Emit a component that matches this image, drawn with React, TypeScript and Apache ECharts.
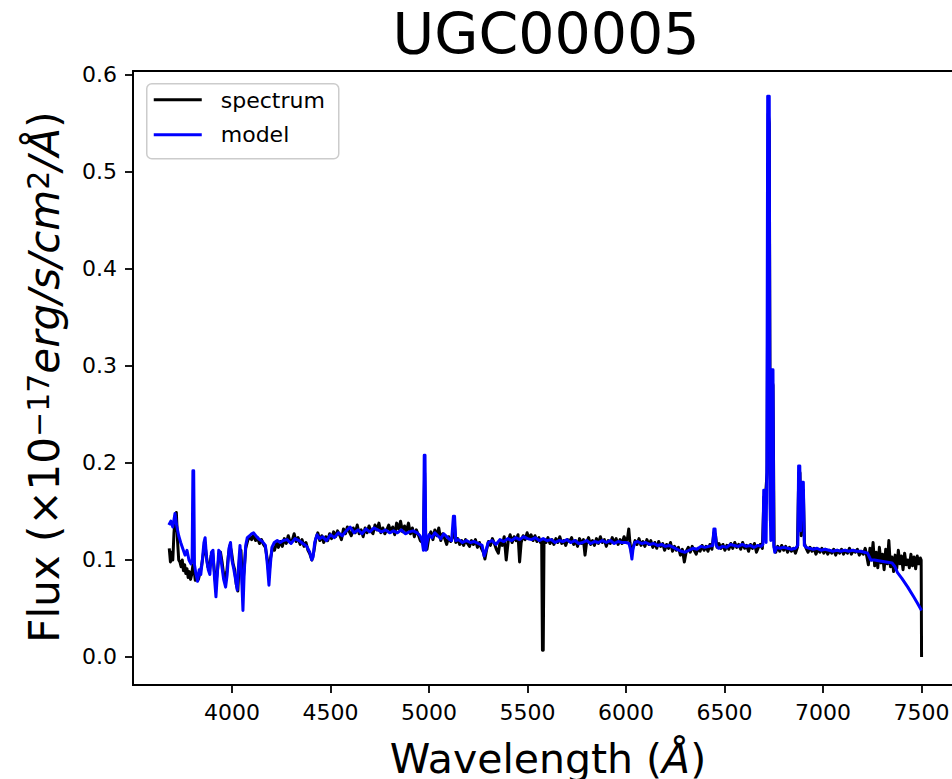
import React, { useEffect, useRef } from 'react';
import * as echarts from 'echarts';

const FONT = 'DejaVu Sans';

const titleText = 'UGC00005';
const xTicks = [4000, 4500, 5000, 5500, 6000, 6500, 7000, 7500];
const yTicks = [0, 0.1, 0.2, 0.3, 0.4, 0.5, 0.6];
const legendNames = ['spectrum', 'model'];

// observed spectrum [wavelength (Å), flux]
const spectrumBlue: [number, number][] = [
  [3682, 0.112], [3688, 0.098], [3694, 0.108], [3700, 0.1], [3706, 0.128], [3712, 0.145], [3718, 0.149],
  [3724, 0.12], [3730, 0.1], [3736, 0.098], [3742, 0.093], [3748, 0.1], [3754, 0.089], [3760, 0.095],
  [3766, 0.086], [3772, 0.091], [3778, 0.082], [3784, 0.088], [3790, 0.08], [3796, 0.085], [3802, 0.095],
  [3808, 0.09], [3814, 0.079], [3822, 0.083], [3830, 0.08], [3838, 0.087], [3846, 0.094], [3854, 0.105],
  [3862, 0.118], [3870, 0.105], [3878, 0.093], [3886, 0.09], [3894, 0.104], [3902, 0.107], [3910, 0.09],
  [3918, 0.075], [3926, 0.088], [3934, 0.104], [3942, 0.108], [3950, 0.098], [3958, 0.085], [3966, 0.08],
  [3974, 0.088], [3982, 0.105], [3990, 0.115], [3998, 0.108], [4006, 0.096], [4014, 0.09], [4022, 0.075],
  [4030, 0.068], [4038, 0.1], [4046, 0.11], [4054, 0.072], [4062, 0.09], [4070, 0.112], [4080, 0.12],
  [4090, 0.124], [4100, 0.121], [4110, 0.126], [4120, 0.12], [4130, 0.123], [4140, 0.117], [4150, 0.121],
  [4160, 0.116], [4170, 0.113], [4180, 0.1], [4188, 0.085], [4196, 0.102], [4206, 0.112], [4216, 0.11],
  [4226, 0.118], [4236, 0.113], [4246, 0.119], [4256, 0.114], [4266, 0.122], [4276, 0.117], [4286, 0.125],
  [4296, 0.118], [4306, 0.12], [4316, 0.127], [4326, 0.119], [4336, 0.123], [4346, 0.116], [4356, 0.121],
  [4366, 0.114], [4376, 0.118], [4386, 0.11], [4396, 0.106], [4406, 0.1], [4416, 0.109], [4426, 0.122],
  [4436, 0.128], [4446, 0.12], [4456, 0.125], [4466, 0.118], [4476, 0.124], [4486, 0.12], [4496, 0.127],
];
const spectrumMid: [number, number][] = [
  [4506, 0.122], [4516, 0.129], [4526, 0.124], [4536, 0.13], [4546, 0.126], [4556, 0.121], [4566, 0.132],
  [4576, 0.127], [4586, 0.134], [4596, 0.129], [4606, 0.125], [4616, 0.133], [4626, 0.128], [4636, 0.136],
  [4646, 0.127], [4656, 0.131], [4666, 0.124], [4676, 0.133], [4686, 0.128], [4696, 0.135], [4706, 0.13],
  [4716, 0.127], [4726, 0.136], [4736, 0.131], [4746, 0.138], [4756, 0.128], [4766, 0.133], [4776, 0.127],
  [4786, 0.131], [4796, 0.136], [4806, 0.129], [4816, 0.134], [4826, 0.126], [4836, 0.138], [4846, 0.132],
  [4856, 0.14], [4866, 0.129], [4876, 0.135], [4886, 0.13], [4896, 0.138], [4906, 0.127], [4916, 0.133],
  [4926, 0.124], [4936, 0.131], [4946, 0.126], [4956, 0.12], [4966, 0.118], [4972, 0.12], [4978, 0.19],
  [4984, 0.115], [4990, 0.111], [5000, 0.124], [5010, 0.129], [5020, 0.121], [5030, 0.131], [5040, 0.125],
  [5050, 0.133], [5060, 0.12], [5070, 0.127], [5080, 0.122], [5090, 0.116], [5100, 0.124], [5110, 0.119],
  [5120, 0.123], [5128, 0.14], [5136, 0.118], [5146, 0.122], [5156, 0.116], [5166, 0.12], [5176, 0.115],
  [5186, 0.121], [5196, 0.117], [5206, 0.114], [5216, 0.12], [5226, 0.116], [5236, 0.121], [5246, 0.113],
  [5256, 0.118], [5266, 0.112], [5276, 0.108], [5284, 0.101], [5292, 0.11], [5302, 0.119], [5312, 0.115],
  [5322, 0.122], [5332, 0.117], [5342, 0.111], [5352, 0.107], [5362, 0.12], [5372, 0.115], [5382, 0.124],
  [5392, 0.1], [5402, 0.119], [5412, 0.126], [5422, 0.118], [5432, 0.124], [5442, 0.12], [5452, 0.126],
  [5460, 0.098], [5468, 0.118], [5478, 0.125], [5488, 0.121], [5498, 0.128], [5508, 0.122], [5518, 0.126],
  [5528, 0.12], [5538, 0.125], [5548, 0.119], [5558, 0.123], [5566, 0.118], [5572, 0.12], [5576, 0.007],
  [5580, 0.007], [5584, 0.121], [5594, 0.118], [5604, 0.123], [5614, 0.117], [5624, 0.121], [5634, 0.116],
  [5644, 0.122], [5654, 0.118], [5664, 0.124], [5674, 0.117], [5684, 0.12], [5694, 0.115], [5704, 0.121],
  [5714, 0.119], [5724, 0.123], [5734, 0.116], [5744, 0.12], [5754, 0.114], [5764, 0.122], [5774, 0.117],
  [5784, 0.121], [5792, 0.105], [5800, 0.118], [5810, 0.123], [5820, 0.116], [5830, 0.12], [5840, 0.115],
  [5850, 0.122], [5860, 0.117], [5870, 0.124], [5880, 0.118], [5890, 0.121], [5900, 0.114], [5910, 0.12],
  [5920, 0.117], [5930, 0.123], [5940, 0.118], [5950, 0.122], [5960, 0.116], [5970, 0.121], [5980, 0.117],
  [5990, 0.124],
];
const spectrumRed: [number, number][] = [
  [6000, 0.119], [6008, 0.123], [6014, 0.132], [6020, 0.118], [6028, 0.106], [6036, 0.113], [6046, 0.12],
  [6056, 0.116], [6066, 0.122], [6076, 0.115], [6086, 0.119], [6096, 0.114], [6106, 0.121], [6116, 0.116],
  [6126, 0.12], [6136, 0.113], [6146, 0.118], [6156, 0.112], [6166, 0.119], [6176, 0.114], [6186, 0.117],
  [6196, 0.11], [6206, 0.116], [6216, 0.112], [6226, 0.118], [6236, 0.109], [6246, 0.114], [6256, 0.11],
  [6266, 0.113], [6276, 0.105], [6286, 0.111], [6296, 0.098], [6306, 0.109], [6316, 0.113], [6326, 0.108],
  [6336, 0.114], [6346, 0.11], [6356, 0.106], [6366, 0.112], [6376, 0.109], [6386, 0.115], [6396, 0.11],
  [6406, 0.114], [6416, 0.109], [6426, 0.116], [6436, 0.111], [6446, 0.128], [6454, 0.126], [6462, 0.113],
  [6472, 0.117], [6482, 0.112], [6492, 0.116], [6502, 0.11], [6512, 0.115], [6522, 0.111], [6532, 0.117],
  [6542, 0.112], [6552, 0.118], [6562, 0.113], [6572, 0.116], [6582, 0.111], [6592, 0.118], [6602, 0.112],
  [6612, 0.115], [6622, 0.109], [6632, 0.116], [6642, 0.112], [6652, 0.117], [6662, 0.108], [6672, 0.113],
  [6682, 0.116], [6692, 0.112], [6700, 0.165], [6706, 0.16], [6716, 0.19], [6722, 0.56], [6727, 0.55],
  [6733, 0.14], [6741, 0.285], [6746, 0.28], [6752, 0.113], [6760, 0.108], [6770, 0.114], [6780, 0.109],
  [6790, 0.115], [6800, 0.11], [6810, 0.114], [6820, 0.108], [6830, 0.113], [6840, 0.109], [6850, 0.112],
  [6860, 0.107], [6870, 0.113], [6877, 0.19], [6883, 0.19], [6889, 0.125], [6895, 0.172], [6900, 0.172],
  [6906, 0.117], [6914, 0.112], [6924, 0.108], [6934, 0.113], [6944, 0.109], [6954, 0.112], [6964, 0.106],
  [6974, 0.111], [6984, 0.108], [6994, 0.112], [7004, 0.107], [7014, 0.111], [7024, 0.106], [7034, 0.11],
  [7044, 0.107], [7054, 0.111], [7064, 0.105], [7074, 0.11], [7084, 0.107], [7094, 0.111], [7104, 0.106],
  [7114, 0.11], [7124, 0.107], [7134, 0.112], [7144, 0.106], [7154, 0.11], [7164, 0.108], [7174, 0.111],
  [7184, 0.105], [7194, 0.109], [7204, 0.106], [7214, 0.112], [7222, 0.104], [7230, 0.095], [7238, 0.112],
  [7246, 0.1], [7254, 0.118], [7262, 0.094], [7270, 0.108], [7278, 0.092], [7286, 0.113], [7294, 0.097],
  [7302, 0.106], [7310, 0.09], [7318, 0.111], [7326, 0.096], [7334, 0.12], [7342, 0.093], [7350, 0.103],
  [7358, 0.088], [7366, 0.105], [7374, 0.091], [7382, 0.11], [7390, 0.096], [7398, 0.104], [7406, 0.09],
  [7414, 0.107], [7422, 0.095], [7430, 0.1], [7438, 0.092], [7446, 0.106], [7454, 0.094], [7462, 0.103],
  [7470, 0.091], [7478, 0.104], [7486, 0.096], [7494, 0.102], [7498, 0.1], [7500, 0.0],
];

// fitted model [wavelength (Å), flux]
const modelBlue: [number, number][] = [
  [3680, 0.136], [3690, 0.14], [3700, 0.134], [3711, 0.148], [3720, 0.135], [3730, 0.125], [3740, 0.118],
  [3750, 0.112], [3762, 0.105], [3772, 0.11], [3782, 0.1], [3792, 0.096], [3798, 0.1], [3802, 0.192],
  [3806, 0.192], [3810, 0.095], [3818, 0.085], [3826, 0.078], [3834, 0.09], [3842, 0.085], [3850, 0.1],
  [3858, 0.118], [3864, 0.123], [3872, 0.1], [3880, 0.09], [3888, 0.085], [3896, 0.108], [3904, 0.11],
  [3912, 0.08], [3919, 0.062], [3926, 0.085], [3933, 0.11], [3940, 0.108], [3948, 0.095], [3958, 0.08],
  [3968, 0.072], [3976, 0.085], [3985, 0.112], [3993, 0.118], [4000, 0.1], [4010, 0.09], [4020, 0.078],
  [4027, 0.069], [4034, 0.095], [4041, 0.115], [4048, 0.09], [4056, 0.048], [4062, 0.085], [4070, 0.115],
  [4078, 0.123], [4090, 0.125], [4100, 0.127], [4110, 0.128], [4125, 0.124], [4140, 0.121], [4155, 0.119],
  [4170, 0.115], [4180, 0.095], [4188, 0.074], [4195, 0.095], [4203, 0.113], [4215, 0.118], [4230, 0.12],
  [4245, 0.118], [4260, 0.12], [4280, 0.121], [4300, 0.117], [4320, 0.122], [4340, 0.12], [4360, 0.117],
  [4380, 0.114], [4395, 0.108], [4405, 0.1], [4412, 0.103], [4420, 0.118], [4432, 0.126], [4445, 0.122],
  [4460, 0.124], [4480, 0.12], [4500, 0.126],
];
const modelMid: [number, number][] = [
  [4520, 0.123], [4540, 0.128], [4560, 0.125], [4580, 0.13], [4600, 0.134], [4620, 0.128], [4640, 0.131],
  [4660, 0.127], [4680, 0.132], [4700, 0.129], [4720, 0.133], [4740, 0.131], [4760, 0.129], [4780, 0.131],
  [4800, 0.128], [4820, 0.13], [4840, 0.128], [4860, 0.131], [4880, 0.127], [4900, 0.129], [4920, 0.13],
  [4940, 0.128], [4955, 0.125], [4965, 0.12], [4972, 0.11], [4976, 0.208], [4980, 0.208], [4984, 0.11],
  [4990, 0.118], [5000, 0.126], [5015, 0.123], [5030, 0.128], [5045, 0.125], [5060, 0.122], [5075, 0.127],
  [5090, 0.124], [5105, 0.121], [5115, 0.12], [5124, 0.145], [5130, 0.145], [5136, 0.12], [5150, 0.121],
  [5170, 0.118], [5190, 0.12], [5210, 0.118], [5230, 0.119], [5250, 0.117], [5270, 0.115], [5280, 0.104],
  [5290, 0.11], [5300, 0.118], [5320, 0.12], [5340, 0.116], [5360, 0.121], [5380, 0.119], [5400, 0.122],
  [5420, 0.12], [5440, 0.123], [5460, 0.121], [5480, 0.124], [5500, 0.122], [5520, 0.121], [5540, 0.123],
  [5560, 0.12], [5580, 0.122], [5600, 0.12], [5620, 0.121], [5640, 0.118], [5660, 0.12], [5680, 0.119],
  [5700, 0.121], [5720, 0.118], [5740, 0.12], [5760, 0.117], [5780, 0.118], [5800, 0.12], [5820, 0.117],
  [5840, 0.119], [5860, 0.118], [5880, 0.12], [5900, 0.118], [5920, 0.12], [5940, 0.117], [5960, 0.119],
  [5980, 0.118],
];
const modelRed: [number, number][] = [
  [6000, 0.118], [6015, 0.117], [6024, 0.11], [6030, 0.101], [6036, 0.112], [6045, 0.118], [6060, 0.119],
  [6080, 0.117], [6100, 0.118], [6120, 0.116], [6140, 0.117], [6160, 0.115], [6180, 0.116], [6200, 0.114],
  [6220, 0.115], [6240, 0.113], [6260, 0.111], [6280, 0.109], [6300, 0.108], [6320, 0.11], [6340, 0.112],
  [6360, 0.111], [6380, 0.114], [6400, 0.113], [6420, 0.114], [6440, 0.115], [6446, 0.132], [6452, 0.132],
  [6458, 0.115], [6470, 0.112], [6490, 0.114], [6510, 0.113], [6530, 0.116], [6550, 0.115], [6570, 0.114],
  [6590, 0.116], [6610, 0.114], [6630, 0.115], [6650, 0.113], [6670, 0.115], [6685, 0.114], [6695, 0.116],
  [6699, 0.172], [6706, 0.172], [6711, 0.118], [6715, 0.2], [6719, 0.578], [6727, 0.578], [6731, 0.16],
  [6735, 0.12], [6739, 0.296], [6746, 0.296], [6750, 0.115], [6755, 0.108], [6765, 0.113], [6780, 0.112],
  [6800, 0.113], [6820, 0.112], [6840, 0.111], [6860, 0.112], [6872, 0.115], [6876, 0.197], [6882, 0.197],
  [6886, 0.13], [6894, 0.18], [6900, 0.18], [6905, 0.115], [6915, 0.113], [6930, 0.112], [6950, 0.111],
  [6970, 0.112], [6990, 0.11], [7010, 0.111], [7030, 0.11], [7050, 0.109], [7070, 0.11], [7090, 0.109],
  [7110, 0.11], [7130, 0.109], [7150, 0.11], [7170, 0.109], [7190, 0.109], [7210, 0.108], [7226, 0.107],
  [7242, 0.1], [7260, 0.1], [7290, 0.099], [7320, 0.098], [7350, 0.097], [7365, 0.093], [7378, 0.087],
  [7400, 0.081], [7430, 0.072], [7460, 0.062], [7480, 0.055], [7500, 0.048],
];

const spectrum = [...spectrumBlue, ...spectrumMid, ...spectrumRed];
const model = [...modelBlue, ...modelMid, ...modelRed];

export default function App() {
  const ref = useRef<HTMLDivElement>(null);
  useEffect(() => {
    const chart = echarts.init(ref.current!, null, { renderer: 'svg' });
    const axisCommon = {
      splitLine: { show: false },
      axisLine: { onZero: false, lineStyle: { color: '#000', width: 1.8 } },
    };
    chart.setOption({
      animation: false,
      backgroundColor: '#fff',
      textStyle: { fontFamily: FONT },
      grid: {
        left: 133, top: 71, width: 826, height: 614,
        show: true, borderColor: '#000', borderWidth: 1.8, containLabel: false,
      },
      xAxis: {
        type: 'value', min: 3498, max: 7690,
        ...axisCommon,
        axisTick: { show: true, customValues: xTicks, length: 8, lineStyle: { color: '#000', width: 1.8 } },
        axisLabel: {
          customValues: xTicks, margin: 16, fontSize: 22, fontFamily: FONT, color: '#000',
          formatter: (v: number) => String(v),
        },
      },
      yAxis: {
        type: 'value', min: -0.0289, max: 0.6041,
        ...axisCommon,
        axisTick: { show: true, customValues: yTicks, length: 8, lineStyle: { color: '#000', width: 1.8 } },
        axisLabel: {
          customValues: yTicks, margin: 16, fontSize: 22, fontFamily: FONT, color: '#000',
          formatter: (v: number) => v.toFixed(1),
        },
      },
      series: [
        {
          name: legendNames[0], type: 'line', data: spectrum, showSymbol: false, symbol: 'none',
          lineStyle: { color: '#000000', width: 3, join: 'round' }, itemStyle: { color: '#000000' }, z: 2,
        },
        {
          name: legendNames[1], type: 'line', data: model, showSymbol: false, symbol: 'none',
          lineStyle: { color: '#0000ff', width: 3, join: 'round' }, itemStyle: { color: '#0000ff' }, z: 3,
        },
      ],
      graphic: [
        {
          type: 'text', x: 546, y: 34,
          style: { text: titleText, fontSize: 57, fontFamily: FONT, fill: '#000', align: 'center', verticalAlign: 'middle' },
        },
        {
          type: 'text', x: 548, y: 759,
          style: {
            text: '{n|Wavelength (}{i|Å}{n|)}', align: 'center', verticalAlign: 'middle', fill: '#000',
            rich: {
              n: { fontSize: 41, fontFamily: FONT, fill: '#000' },
              i: { fontSize: 41, fontFamily: FONT, fontStyle: 'italic', fill: '#000' },
            },
          },
        },
        {
          type: 'text', x: 44, y: 377, rotation: Math.PI / 2,
          style: {
            text: '{n|Flux (×10}{s|−17}{i|erg/s/cm}{s|2}{i|/Å}{n|)}', align: 'center', verticalAlign: 'middle', fill: '#000',
            rich: {
              n: { fontSize: 42, fontFamily: FONT, lineHeight: 42, verticalAlign: 'bottom', padding: [14, 0, 0, 0], fill: '#000' },
              i: { fontSize: 42, fontFamily: FONT, fontStyle: 'italic', lineHeight: 42, verticalAlign: 'bottom', padding: [14, 0, 0, 0], fill: '#000' },
              s: { fontSize: 30, fontFamily: FONT, lineHeight: 30, verticalAlign: 'top', fill: '#000' },
            },
          },
        },
        {
          type: 'group', left: 146, top: 83, z: 100,
          children: [
            {
              type: 'rect', shape: { x: 0, y: 0, width: 192, height: 75, r: 5 },
              style: { fill: 'rgba(255,255,255,0.8)', stroke: '#cccccc', lineWidth: 1.5 },
            },
            { type: 'line', shape: { x1: 7, y1: 16, x2: 55, y2: 16 }, style: { stroke: '#000000', lineWidth: 3 } },
            { type: 'line', shape: { x1: 7, y1: 51, x2: 55, y2: 51 }, style: { stroke: '#0000ff', lineWidth: 3 } },
            {
              type: 'text', x: 74, y: 17,
              style: { text: legendNames[0], fontSize: 22, fontFamily: FONT, fill: '#000', align: 'left', verticalAlign: 'middle' },
            },
            {
              type: 'text', x: 74, y: 51,
              style: { text: legendNames[1], fontSize: 22, fontFamily: FONT, fill: '#000', align: 'left', verticalAlign: 'middle' },
            },
          ],
        },
      ],
    });
    return () => chart.dispose();
  }, []);
  return (
    <div style={{ position: 'absolute', left: 0, top: 0, width: 952, height: 779, overflow: 'hidden', background: '#fff' }}>
      <div ref={ref} style={{ width: 980, height: 779 }} />
    </div>
  );
}
